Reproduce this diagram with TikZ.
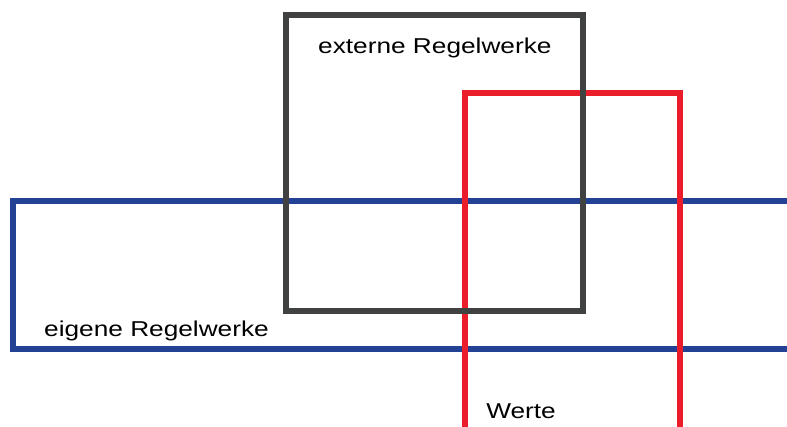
\documentclass[tikz,border=0pt]{standalone}
\usepackage{fontspec}
\setmainfont{Liberation Sans}
\definecolor{regelblue}{RGB}{35,66,150}
\definecolor{regelgray}{RGB}{64,66,66}
\definecolor{regelred}{RGB}{234,30,42}
\begin{document}
\begin{tikzpicture}[
        x=1pt, y=-1pt,
        frame/.style={line width=6pt, line join=miter},
        label/.style={font=\fontsize{21.5}{25}\selectfont, xscale=1.22, anchor=base west, inner sep=0pt}
    ]
        \useasboundingbox (0,0) rectangle (787,427);
        \clip (0,0) rectangle (787,427);
        % eigene Regelwerke
        \draw[frame, regelblue] (800,201) -- (13,201) -- (13,349) -- (800,349);
        % Werte
        \draw[frame, regelred] (465,440) -- (465,93) -- (680,93) -- (680,440);
        % externe Regelwerke
        \draw[frame, regelgray] (286,15) rectangle (583,311);
        % Labels
        \node[label] (extern) at (318,54) {externe Regelwerke};
        \node[label] (eigen) at (44,337) {eigene Regelwerke};
        \node[label] (werte) at (486,418) {Werte};
    \end{tikzpicture}
\end{document}
